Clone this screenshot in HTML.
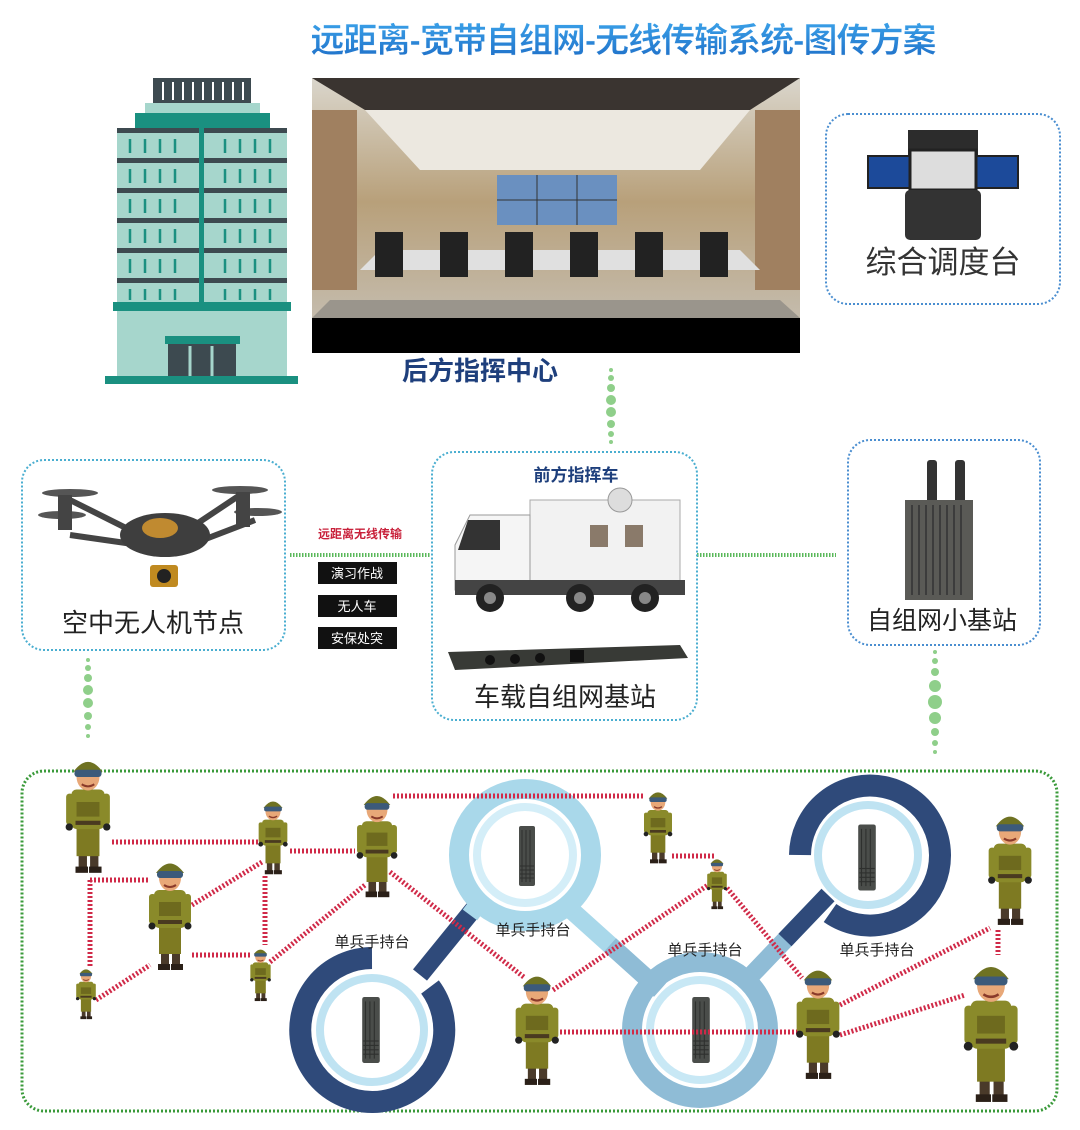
<!DOCTYPE html>
<html><head><meta charset="utf-8"><style>
body{margin:0;width:1080px;height:1130px;background:#fff;overflow:hidden;font-family:"Liberation Sans","Noto Sans CJK SC",sans-serif}
svg{display:block}
text{font-family:"Liberation Sans","Noto Sans CJK SC",sans-serif}
</style></head><body>
<svg width="1080" height="1130" viewBox="0 0 1080 1130">
<defs>
<symbol id="sol" viewBox="0 0 50 120">
 <rect x="16" y="98" width="8" height="14" fill="#4a3a2a"/><rect x="27" y="98" width="8" height="14" fill="#4a3a2a"/>
 <rect x="13" y="110" width="12" height="6" fill="#2b2018"/><rect x="26" y="110" width="12" height="6" fill="#2b2018"/>
 <rect x="14" y="70" width="22" height="30" fill="#7e7a22"/>
 <rect x="9" y="36" width="32" height="38" rx="5" fill="#8a8a2a"/>
 <rect x="14" y="48" width="22" height="14" fill="#6e6a1e"/>
 <rect x="13" y="66" width="24" height="4" fill="#4a3a20"/>
 <rect x="4" y="40" width="7" height="30" rx="3" fill="#8a8a2a"/><rect x="39" y="40" width="7" height="30" rx="3" fill="#8a8a2a"/>
 <circle cx="7" cy="72" r="3.5" fill="#222"/><circle cx="43" cy="72" r="3.5" fill="#222"/>
 <ellipse cx="25" cy="24" rx="11" ry="13" fill="#e8a878"/>
 <path d="M11 19 Q25 0 39 19 Z" fill="#6f7222"/>
 <rect x="12" y="17" width="26" height="7" rx="3" fill="#3c5a7a"/>
 <path d="M19 31 Q25 35 31 31" stroke="#8a3a2a" stroke-width="2" fill="none"/>
</symbol>
<symbol id="radio" viewBox="0 0 20 60">
 <rect x="2" y="0" width="16" height="60" rx="2" fill="#4a4d4a"/>
 <g stroke="#2e302e" stroke-width="1">
 <line x1="5" y1="4" x2="5" y2="56"/><line x1="9" y1="4" x2="9" y2="56"/><line x1="13" y1="4" x2="13" y2="56"/>
 <line x1="3" y1="40" x2="17" y2="40"/><line x1="3" y1="44" x2="17" y2="44"/><line x1="3" y1="48" x2="17" y2="48"/><line x1="3" y1="52" x2="17" y2="52"/></g>
</symbol>
<linearGradient id="tg" x1="0" y1="0" x2="0" y2="1"><stop offset="0" stop-color="#3aa0e8"/><stop offset="1" stop-color="#1e6fc8"/></linearGradient>
<linearGradient id="room" x1="0" y1="0" x2="0" y2="1"><stop offset="0" stop-color="#dad6cc"/><stop offset="0.45" stop-color="#b8a07a"/><stop offset="1" stop-color="#c8c4bc"/></linearGradient>
</defs>

<!-- title -->
<text x="623" y="52" text-anchor="middle" font-size="34" font-weight="bold" fill="url(#tg)" stroke="#fff" stroke-width="0.5" letter-spacing="-1">远距离-宽带自组网-无线传输系统-图传方案</text>

<!-- building -->
<g>
 <rect x="153" y="78" width="98" height="25" fill="#3d4a50"/>
 <g stroke="#fff" stroke-width="2"><line x1="163" y1="82" x2="163" y2="100"/><line x1="173" y1="82" x2="173" y2="100"/><line x1="183" y1="82" x2="183" y2="100"/><line x1="193" y1="82" x2="193" y2="100"/><line x1="203" y1="82" x2="203" y2="100"/><line x1="213" y1="82" x2="213" y2="100"/><line x1="223" y1="82" x2="223" y2="100"/><line x1="233" y1="82" x2="233" y2="100"/><line x1="243" y1="82" x2="243" y2="100"/></g>
 <rect x="145" y="103" width="115" height="10" fill="#a6d6cc"/>
 <rect x="135" y="113" width="135" height="15" fill="#1a9080"/>
 <rect x="117" y="128" width="170" height="175" fill="#a6d6cc"/>
 <g fill="#3d4a50"><rect x="117" y="128" width="170" height="5"/><rect x="117" y="158" width="170" height="5"/><rect x="117" y="188" width="170" height="5"/><rect x="117" y="218" width="170" height="5"/><rect x="117" y="248" width="170" height="5"/><rect x="117" y="278" width="170" height="5"/></g>
 <g stroke="#1a9080" stroke-width="2.5" stroke-dasharray="14 16"><line x1="130" y1="139" x2="130" y2="300"/><line x1="145" y1="139" x2="145" y2="300"/><line x1="160" y1="139" x2="160" y2="300"/><line x1="175" y1="139" x2="175" y2="300"/><line x1="225" y1="139" x2="225" y2="300"/><line x1="240" y1="139" x2="240" y2="300"/><line x1="255" y1="139" x2="255" y2="300"/><line x1="270" y1="139" x2="270" y2="300"/></g>
 <rect x="199" y="128" width="5" height="180" fill="#1a9080"/>
 <rect x="113" y="302" width="178" height="9" fill="#1a9080"/>
 <rect x="117" y="311" width="170" height="65" fill="#a6d6cc"/>
 <rect x="165" y="336" width="75" height="8" fill="#1a9080"/>
 <rect x="168" y="344" width="68" height="32" fill="#3d4a50"/>
 <g stroke="#a6d6cc" stroke-width="3"><line x1="190" y1="346" x2="190" y2="376"/><line x1="212" y1="346" x2="212" y2="376"/></g>
 <rect x="105" y="376" width="193" height="8" fill="#1a9080"/>
</g>

<!-- conference room -->
<rect x="312" y="78" width="488" height="275" fill="url(#room)"/>
<polygon points="312,78 800,78 750,110 365,110" fill="#3a3430"/>
<polygon points="365,110 750,110 700,170 420,170" fill="#ece8e0"/>
<rect x="312" y="110" width="45" height="180" fill="#a08060"/><rect x="755" y="110" width="45" height="180" fill="#a08060"/>
<rect x="497" y="175" width="120" height="50" fill="#6a90c0"/>
<g stroke="#333" stroke-width="1"><line x1="537" y1="175" x2="537" y2="225"/><line x1="577" y1="175" x2="577" y2="225"/><line x1="497" y1="200" x2="617" y2="200"/></g>
<polygon points="380,250 740,250 760,270 360,270" fill="#e0e0e0"/>
<g fill="#222"><rect x="375" y="232" width="28" height="45"/><rect x="440" y="232" width="28" height="45"/><rect x="505" y="232" width="28" height="45"/><rect x="570" y="232" width="28" height="45"/><rect x="635" y="232" width="28" height="45"/><rect x="700" y="232" width="28" height="45"/></g>
<polygon points="330,300 780,300 800,318 312,318" fill="#9a958c"/>
<rect x="312" y="318" width="488" height="35" fill="#000"/>
<text x="480" y="380" text-anchor="middle" font-size="26" font-weight="bold" fill="#1e3f7c">后方指挥中心</text>

<!-- dispatch box -->
<rect x="826" y="114" width="234" height="190" rx="22" fill="none" stroke="#4a8ed0" stroke-width="2" stroke-dasharray="2 2"/>
<rect x="908" y="130" width="70" height="30" fill="#2c2c2c"/>
<rect x="868" y="156" width="42" height="32" fill="#1c4a9a" stroke="#222" stroke-width="2"/>
<rect x="976" y="156" width="42" height="32" fill="#1c4a9a" stroke="#222" stroke-width="2"/>
<rect x="910" y="150" width="66" height="40" fill="#ddd" stroke="#222" stroke-width="3"/>
<rect x="905" y="190" width="76" height="50" rx="5" fill="#333"/>
<text x="943" y="273" text-anchor="middle" font-size="31" fill="#333">综合调度台</text>

<!-- vertical green dots top -->
<g fill="#8fcf8a"><circle cx="611" cy="370" r="2"/><circle cx="611" cy="378" r="3"/><circle cx="611" cy="388" r="4"/><circle cx="611" cy="400" r="5"/><circle cx="611" cy="412" r="5"/><circle cx="611" cy="424" r="4"/><circle cx="611" cy="434" r="3"/><circle cx="611" cy="442" r="2"/></g>

<!-- drone box -->
<rect x="22" y="460" width="263" height="190" rx="22" fill="none" stroke="#4aaed0" stroke-width="2" stroke-dasharray="2 2"/>
<g>
 <line x1="70" y1="500" x2="150" y2="540" stroke="#444" stroke-width="6"/>
 <line x1="240" y1="495" x2="180" y2="535" stroke="#444" stroke-width="6"/>
 <line x1="70" y1="535" x2="140" y2="545" stroke="#444" stroke-width="6"/>
 <line x1="255" y1="520" x2="190" y2="545" stroke="#444" stroke-width="6"/>
 <ellipse cx="70" cy="493" rx="28" ry="4" fill="#555"/><ellipse cx="240" cy="490" rx="28" ry="4" fill="#555"/>
 <ellipse cx="62" cy="515" rx="24" ry="4" fill="#555"/><ellipse cx="258" cy="512" rx="24" ry="4" fill="#555"/>
 <rect x="58" y="495" width="14" height="35" fill="#444"/><rect x="236" y="492" width="14" height="35" fill="#444"/>
 <ellipse cx="165" cy="535" rx="45" ry="22" fill="#3e3e3e"/>
 <ellipse cx="160" cy="528" rx="18" ry="10" fill="#c08a30"/>
 <rect x="150" y="565" width="28" height="22" rx="3" fill="#c08a20"/>
 <circle cx="164" cy="576" r="7" fill="#222"/>
</g>
<text x="153" y="632" text-anchor="middle" font-size="26" fill="#222">空中无人机节点</text>

<!-- center link -->
<text x="360" y="538" text-anchor="middle" font-size="12" font-weight="bold" fill="#c8203a">远距离无线传输</text>
<line x1="290" y1="555" x2="430" y2="555" stroke="#5ab85a" stroke-width="4" stroke-dasharray="1.5 1.5"/>
<line x1="697" y1="555" x2="836" y2="555" stroke="#5ab85a" stroke-width="4" stroke-dasharray="1.5 1.5"/>
<rect x="318" y="562" width="79" height="22" fill="#111"/><text x="357" y="578" text-anchor="middle" font-size="13" fill="#fff">演习作战</text>
<rect x="318" y="595" width="79" height="22" fill="#111"/><text x="357" y="611" text-anchor="middle" font-size="13" fill="#fff">无人车</text>
<rect x="318" y="627" width="79" height="22" fill="#111"/><text x="357" y="643" text-anchor="middle" font-size="13" fill="#fff">安保处突</text>

<!-- command vehicle box -->
<rect x="432" y="452" width="265" height="268" rx="22" fill="none" stroke="#4aaed0" stroke-width="2" stroke-dasharray="2 2"/>
<text x="576" y="481" text-anchor="middle" font-size="17" font-weight="bold" fill="#1e3f7c">前方指挥车</text>
<g>
 <rect x="530" y="500" width="150" height="90" fill="#f2f2f2" stroke="#aaa"/>
 <circle cx="620" cy="500" r="12" fill="#ddd" stroke="#999"/>
 <rect x="590" y="525" width="18" height="22" fill="#8a7a6a"/><rect x="625" y="525" width="18" height="22" fill="#8a7a6a"/>
 <polygon points="455,545 470,515 530,515 530,590 455,590" fill="#f5f5f5" stroke="#999"/>
 <polygon points="468,520 500,520 500,550 458,550" fill="#333"/>
 <rect x="455" y="580" width="230" height="15" fill="#444"/>
 <circle cx="490" cy="598" r="14" fill="#222"/><circle cx="580" cy="598" r="14" fill="#222"/><circle cx="645" cy="598" r="14" fill="#222"/>
 <circle cx="490" cy="598" r="6" fill="#888"/><circle cx="580" cy="598" r="6" fill="#888"/><circle cx="645" cy="598" r="6" fill="#888"/>
</g>
<polygon points="448,652 680,645 688,658 455,670" fill="#383a36"/>
<g fill="#111"><circle cx="490" cy="660" r="5"/><circle cx="515" cy="659" r="5"/><circle cx="540" cy="658" r="5"/><rect x="570" y="650" width="14" height="12"/></g>
<text x="565" y="706" text-anchor="middle" font-size="26" fill="#222">车载自组网基站</text>

<!-- small base station box -->
<rect x="848" y="440" width="192" height="205" rx="22" fill="none" stroke="#4a8ed0" stroke-width="2" stroke-dasharray="2 2"/>
<rect x="927" y="460" width="10" height="45" rx="3" fill="#333"/><rect x="955" y="460" width="10" height="45" rx="3" fill="#333"/>
<rect x="905" y="500" width="68" height="100" fill="#5a5a56"/>
<g stroke="#333" stroke-width="1.5"><line x1="912" y1="505" x2="912" y2="595"/><line x1="919" y1="505" x2="919" y2="595"/><line x1="926" y1="505" x2="926" y2="595"/><line x1="933" y1="505" x2="933" y2="595"/><line x1="940" y1="505" x2="940" y2="595"/><line x1="947" y1="505" x2="947" y2="595"/><line x1="954" y1="505" x2="954" y2="595"/><line x1="961" y1="505" x2="961" y2="595"/></g>
<text x="942" y="629" text-anchor="middle" font-size="25" fill="#222">自组网小基站</text>

<!-- vertical green dots -->
<g fill="#8fcf8a">
 <circle cx="88" cy="660" r="2"/><circle cx="88" cy="668" r="3"/><circle cx="88" cy="678" r="4"/><circle cx="88" cy="690" r="5"/><circle cx="88" cy="703" r="5"/><circle cx="88" cy="716" r="4"/><circle cx="88" cy="727" r="3"/><circle cx="88" cy="736" r="2"/>
 <circle cx="935" cy="652" r="2"/><circle cx="935" cy="661" r="3"/><circle cx="935" cy="672" r="4"/><circle cx="935" cy="686" r="6"/><circle cx="935" cy="702" r="7"/><circle cx="935" cy="718" r="6"/><circle cx="935" cy="732" r="4"/><circle cx="935" cy="743" r="3"/><circle cx="935" cy="752" r="2"/>
</g>

<!-- bottom box -->
<rect x="22" y="771" width="1035" height="340" rx="22" fill="none" stroke="#3a9a3a" stroke-width="3" stroke-dasharray="2 2"/>

<!-- rings connectors -->
<line x1="420" y1="975" x2="485" y2="895" stroke="#2f4a7a" stroke-width="18"/>
<line x1="485" y1="895" x2="470" y2="915" stroke="#a9d8ea" stroke-width="18"/>
<line x1="560" y1="900" x2="660" y2="990" stroke="#a9d8ea" stroke-width="18"/>
<line x1="610" y1="945" x2="660" y2="990" stroke="#8fbcd6" stroke-width="18"/>
<line x1="742" y1="985" x2="828" y2="895" stroke="#8fbcd6" stroke-width="18"/>
<line x1="785" y1="940" x2="828" y2="895" stroke="#2f4a7a" stroke-width="18"/>
<!-- rings -->
<g>
 <path d="M372 958 A72 72 0 1 0 430 987" fill="none" stroke="#2f4a7a" stroke-width="22"/>
 <circle cx="372" cy="1030" r="52" fill="#fff" stroke="#bfe3f2" stroke-width="8"/>
 <circle cx="525" cy="855" r="66" fill="none" stroke="#a9d8ea" stroke-width="20"/>
 <circle cx="525" cy="855" r="48" fill="#fff" stroke="#d4eef8" stroke-width="8"/>
 <circle cx="700" cy="1030" r="68" fill="none" stroke="#8fbcd6" stroke-width="20"/>
 <circle cx="700" cy="1030" r="50" fill="#fff" stroke="#c8e8f5" stroke-width="8"/>
 <path d="M800 855 A70 70 0 1 1 830 913" fill="none" stroke="#2f4a7a" stroke-width="22"/>
 <circle cx="868" cy="855" r="50" fill="#fff" stroke="#bfe3f2" stroke-width="8"/>
</g>
<use href="#radio" x="360" y="990" width="22" height="80"/>
<use href="#radio" x="517" y="820" width="20" height="72"/>
<use href="#radio" x="690" y="990" width="22" height="80"/>
<use href="#radio" x="856" y="820" width="22" height="75"/>
<g font-size="15" fill="#222" text-anchor="middle">
 <text x="372" y="947">单兵手持台</text><text x="533" y="935">单兵手持台</text><text x="705" y="955">单兵手持台</text><text x="877" y="955">单兵手持台</text>
</g>

<!-- red dotted links -->
<g stroke="#d02a48" stroke-width="5" stroke-dasharray="2 2" fill="none">
 <line x1="112" y1="842" x2="258" y2="842"/>
 <line x1="90" y1="880" x2="150" y2="880"/><line x1="90" y1="880" x2="90" y2="968"/>
 <line x1="290" y1="851" x2="355" y2="851"/>
 <line x1="192" y1="955" x2="250" y2="955"/>
 <line x1="265" y1="876" x2="265" y2="945"/>
 <line x1="192" y1="905" x2="262" y2="862"/>
 <line x1="96" y1="1000" x2="150" y2="965"/>
 <line x1="270" y1="962" x2="365" y2="885"/>
 <line x1="393" y1="796" x2="645" y2="796"/>
 <line x1="390" y1="872" x2="525" y2="978"/>
 <line x1="553" y1="990" x2="708" y2="885"/>
 <line x1="672" y1="856" x2="714" y2="856"/>
 <line x1="727" y1="888" x2="802" y2="978"/>
 <line x1="560" y1="1032" x2="800" y2="1032"/>
 <line x1="840" y1="1005" x2="990" y2="928"/>
 <line x1="840" y1="1035" x2="965" y2="995"/>
 <line x1="998" y1="930" x2="998" y2="955"/>
</g>

<!-- soldiers -->
<use href="#sol" x="60" y="752" width="56" height="125"/>
<use href="#sol" x="254" y="795" width="38" height="82"/>
<use href="#sol" x="350" y="787" width="54" height="114"/>
<use href="#sol" x="143" y="854" width="54" height="120"/>
<use href="#sol" x="72" y="965" width="28" height="56"/>
<use href="#sol" x="246" y="945" width="29" height="58"/>
<use href="#sol" x="639" y="786" width="38" height="80"/>
<use href="#sol" x="704" y="855" width="26" height="56"/>
<use href="#sol" x="983" y="807" width="54" height="122"/>
<use href="#sol" x="510" y="967" width="54" height="122"/>
<use href="#sol" x="791" y="961" width="54" height="122"/>
<use href="#sol" x="957" y="955" width="68" height="152"/>
</svg>
</body></html>
